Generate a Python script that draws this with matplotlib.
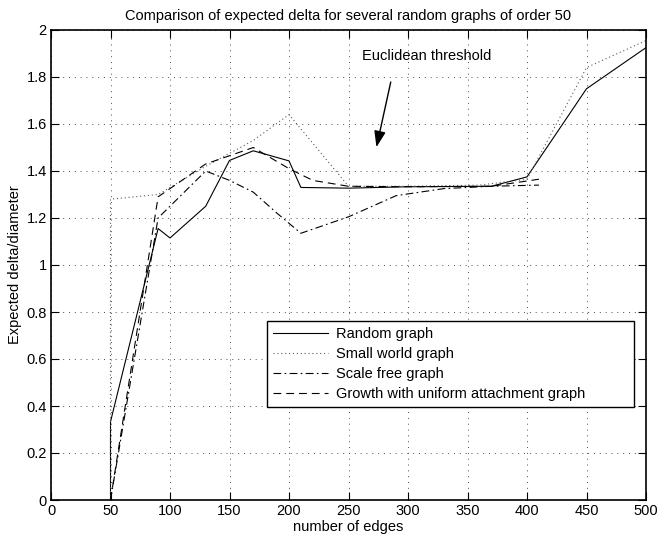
import matplotlib
matplotlib.use("Agg")
import matplotlib.pyplot as plt
from matplotlib.ticker import FuncFormatter

plt.rcParams['font.family'] = ['Liberation Sans', 'DejaVu Sans']

# Random graph
rand_x = [50, 50, 90, 100, 130, 150, 170, 200, 210, 250, 300, 370, 400, 450, 500]
rand_y = [0, 0.333, 1.155, 1.115, 1.25, 1.445, 1.486, 1.443, 1.33, 1.327, 1.333, 1.335, 1.375, 1.75, 1.925]

# Small world graph
small_x = [50, 50, 90, 130, 170, 200, 250, 300, 360, 400, 450, 500]
small_y = [0, 1.28, 1.30, 1.42, 1.53, 1.64, 1.335, 1.335, 1.34, 1.365, 1.84, 1.955]

# Scale free graph
scale_x = [50, 90, 130, 150, 170, 190, 210, 250, 290, 330, 370, 410]
scale_y = [0, 1.20, 1.40, 1.36, 1.31, 1.22, 1.135, 1.205, 1.295, 1.325, 1.335, 1.34]

# Growth with uniform attachment graph
growth_x = [50, 90, 130, 170, 200, 220, 250, 300, 370, 410]
growth_y = [0, 1.29, 1.43, 1.50, 1.41, 1.36, 1.335, 1.333, 1.335, 1.365]

labels = ['Random graph', 'Small world graph', 'Scale free graph',
          'Growth with uniform attachment graph']

fs = 10.5

fig = plt.figure(figsize=(6.57, 5.34), dpi=100)
ax = fig.add_axes([51/657, 34/534, 595/657, 470/534])

ax.plot(rand_x, rand_y, '-', color='k', lw=0.8, label=labels[0])
ax.plot(small_x, small_y, color='0.35', lw=0.8, linestyle=(0, (1, 2.5)), label=labels[1])
ax.plot(scale_x, scale_y, color='k', lw=0.8, linestyle=(0, (7, 3, 1.5, 3)), label=labels[2])
ax.plot(growth_x, growth_y, color='k', lw=0.8, linestyle=(0, (7, 4.5)), label=labels[3])

ax.set_xlim(0, 500)
ax.set_ylim(0, 2)
ax.set_xticks(range(0, 501, 50))
ax.set_yticks([i * 0.2 for i in range(11)])
ax.yaxis.set_major_formatter(FuncFormatter(lambda v, p: '%g' % round(v, 2)))
ax.tick_params(direction='in', top=True, right=True, length=6, width=0.8,
               labelsize=fs, pad=3)
ax.grid(True, linestyle=(0, (1, 5)), color='0.3', lw=0.7)
for s in ax.spines.values():
    s.set_linewidth(1.2)

ax.set_title('Comparison of expected delta for several random graphs of order 50',
             fontsize=fs, pad=7)
ax.set_xlabel('number of edges', fontsize=fs, labelpad=1)
ax.set_ylabel('Expected delta/diameter', fontsize=fs, labelpad=3)

ax.annotate('', xy=(273, 1.49), xytext=(286, 1.79),
            arrowprops=dict(arrowstyle='-|>,head_length=0.7,head_width=0.25',
                            color='k', lw=1, mutation_scale=14))
ax.text(261, 1.889, 'Euclidean threshold', fontsize=fs, va='center', ha='left')

leg = ax.legend(loc='upper left', bbox_to_anchor=(0.363, 0.202, 0.617, 0.179),
                mode='expand', borderaxespad=0,
                fontsize=fs, handlelength=3.8, handletextpad=0.5, labelspacing=0.42,
                fancybox=False, framealpha=1, edgecolor='k', borderpad=0.4)
leg.get_frame().set_linewidth(1.0)

fig.savefig('out.png', dpi=100)
